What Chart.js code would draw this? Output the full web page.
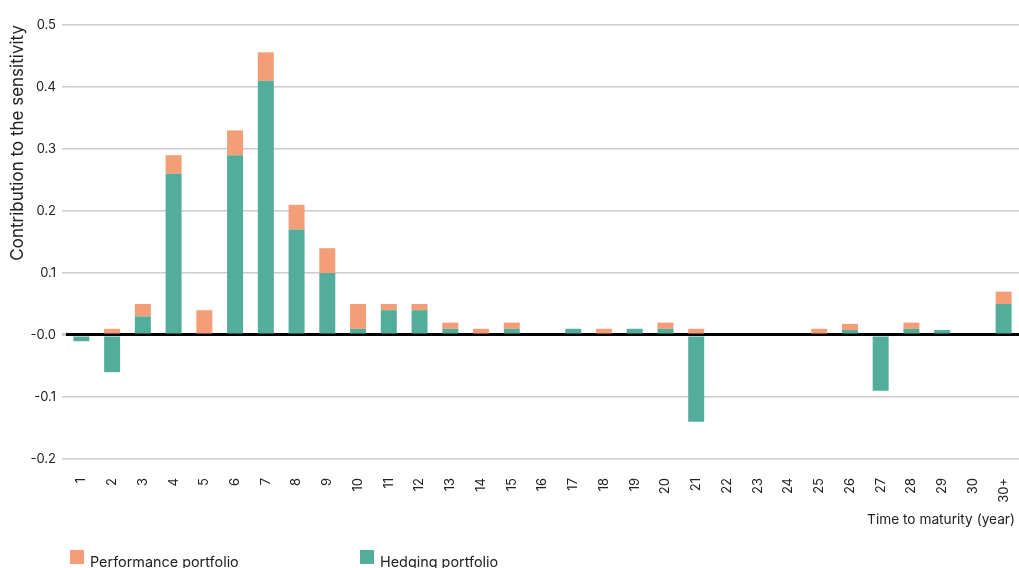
<!DOCTYPE html>
<html>
<head>
<meta charset="utf-8">
<script src="https://cdn.jsdelivr.net/npm/chart.js@4.4.0/dist/chart.umd.min.js"></script>
<style>
  html, body { margin: 0; padding: 0; background: #fff; }
  #wrap { width: 1019px; height: 568px; position: relative; }
</style>
</head>
<body>
<div id="wrap"><canvas id="c" width="1019" height="568"></canvas></div>
<script>
const categories = ['1','2','3','4','5','6','7','8','9','10','11','12','13','14','15','16','17','18','19','20','21','22','23','24','25','26','27','28','29','30','30+'];
const hedging =     [-0.01,-0.06,0.03,0.26,0,0.29,0.41,0.17,0.10,0.01,0.04,0.04,0.01,0,0.01,0,0.01,0,0.01,0.01,-0.14,0,0,0,0,0.008,-0.09,0.01,0.008,0,0.05];
const performance = [0,0.01,0.02,0.03,0.04,0.04,0.046,0.04,0.04,0.04,0.01,0.01,0.01,0.01,0.01,0,0,0.01,0,0.01,0.01,0,0,0,0.01,0.01,0,0.01,0,0,0.02];
const yTicks = [-0.2,-0.1,0,0.1,0.2,0.3,0.4,0.5];
const seriesNames = ['Hedging portfolio','Performance portfolio'];
const colors = { hedging: '#52AE9A', performance: '#F49E79' };
const FONT = 'Inter, "Open Sans", sans-serif';

const extras = {
  id: 'extras',
  afterDraw(chart) {
    const ctx = chart.ctx;
    ctx.save();
    ctx.fillStyle = '#222';
    ctx.font = '13.7px ' + FONT;
    ctx.textAlign = 'right';
    ctx.textBaseline = 'middle';
    ctx.fillText('Time to maturity (year)', 1015, 520);
    const items = [chart.data.datasets[1], chart.data.datasets[0]];
    const xs = [70, 360];
    ctx.font = '14.4px ' + FONT;
    ctx.textAlign = 'left';
    ctx.textBaseline = 'alphabetic';
    items.forEach((ds, i) => {
      ctx.fillStyle = ds.backgroundColor;
      ctx.fillRect(xs[i], 550, 14, 14);
      ctx.fillStyle = '#222';
      ctx.fillText(ds.label, xs[i] + 20, 567);
    });
    ctx.restore();
  }
};

new Chart(document.getElementById('c'), {
  type: 'bar',
  data: {
    labels: categories,
    datasets: [
      { label: seriesNames[0], data: hedging, backgroundColor: colors.hedging, barPercentage: 1, categoryPercentage: 0.52 },
      { label: seriesNames[1], data: performance, backgroundColor: colors.performance, barPercentage: 1, categoryPercentage: 0.52 }
    ]
  },
  options: {
    responsive: false,
    animation: false,
    layout: { padding: { top: 25, right: 0, left: 0, bottom: 0 } },
    plugins: { legend: { display: false }, tooltip: { enabled: false } },
    scales: {
      x: {
        stacked: true,
        grid: { display: false, drawTicks: false },
        border: { display: false },
        ticks: { minRotation: 90, maxRotation: 90, padding: 19, color: '#222', font: { family: FONT, size: 13 } },
        afterFit(s) { s.height = 109; s.paddingLeft = 0; s.paddingRight = 0; }
      },
      y: {
        stacked: true,
        min: -0.2, max: 0.5,
        afterBuildTicks(s) { s.ticks = yTicks.map(v => ({ value: v })); },
        border: { display: false },
        grid: {
          color: c => c.tick && Math.abs(c.tick.value) < 1e-9 ? '#000' : '#cccccc',
          lineWidth: c => c.tick && Math.abs(c.tick.value) < 1e-9 ? 3 : 1.5,
          tickLength: 4,
          tickColor: '#cccccc'
        },
        ticks: {
          padding: 6,
          color: '#222',
          font: { family: FONT, size: 13 },
          callback: v => Math.abs(v) < 1e-9 ? '-0.0' : Number(v).toFixed(1)
        },
        title: { display: true, text: 'Contribution to the sensitivity', align: 'end', color: '#222', font: { family: FONT, size: 17 }, padding: { top: 8, bottom: 0 } },
        afterFit(s) { s.width = 66; }
      }
    }
  },
  plugins: [extras]
});
</script>
</body>
</html>
